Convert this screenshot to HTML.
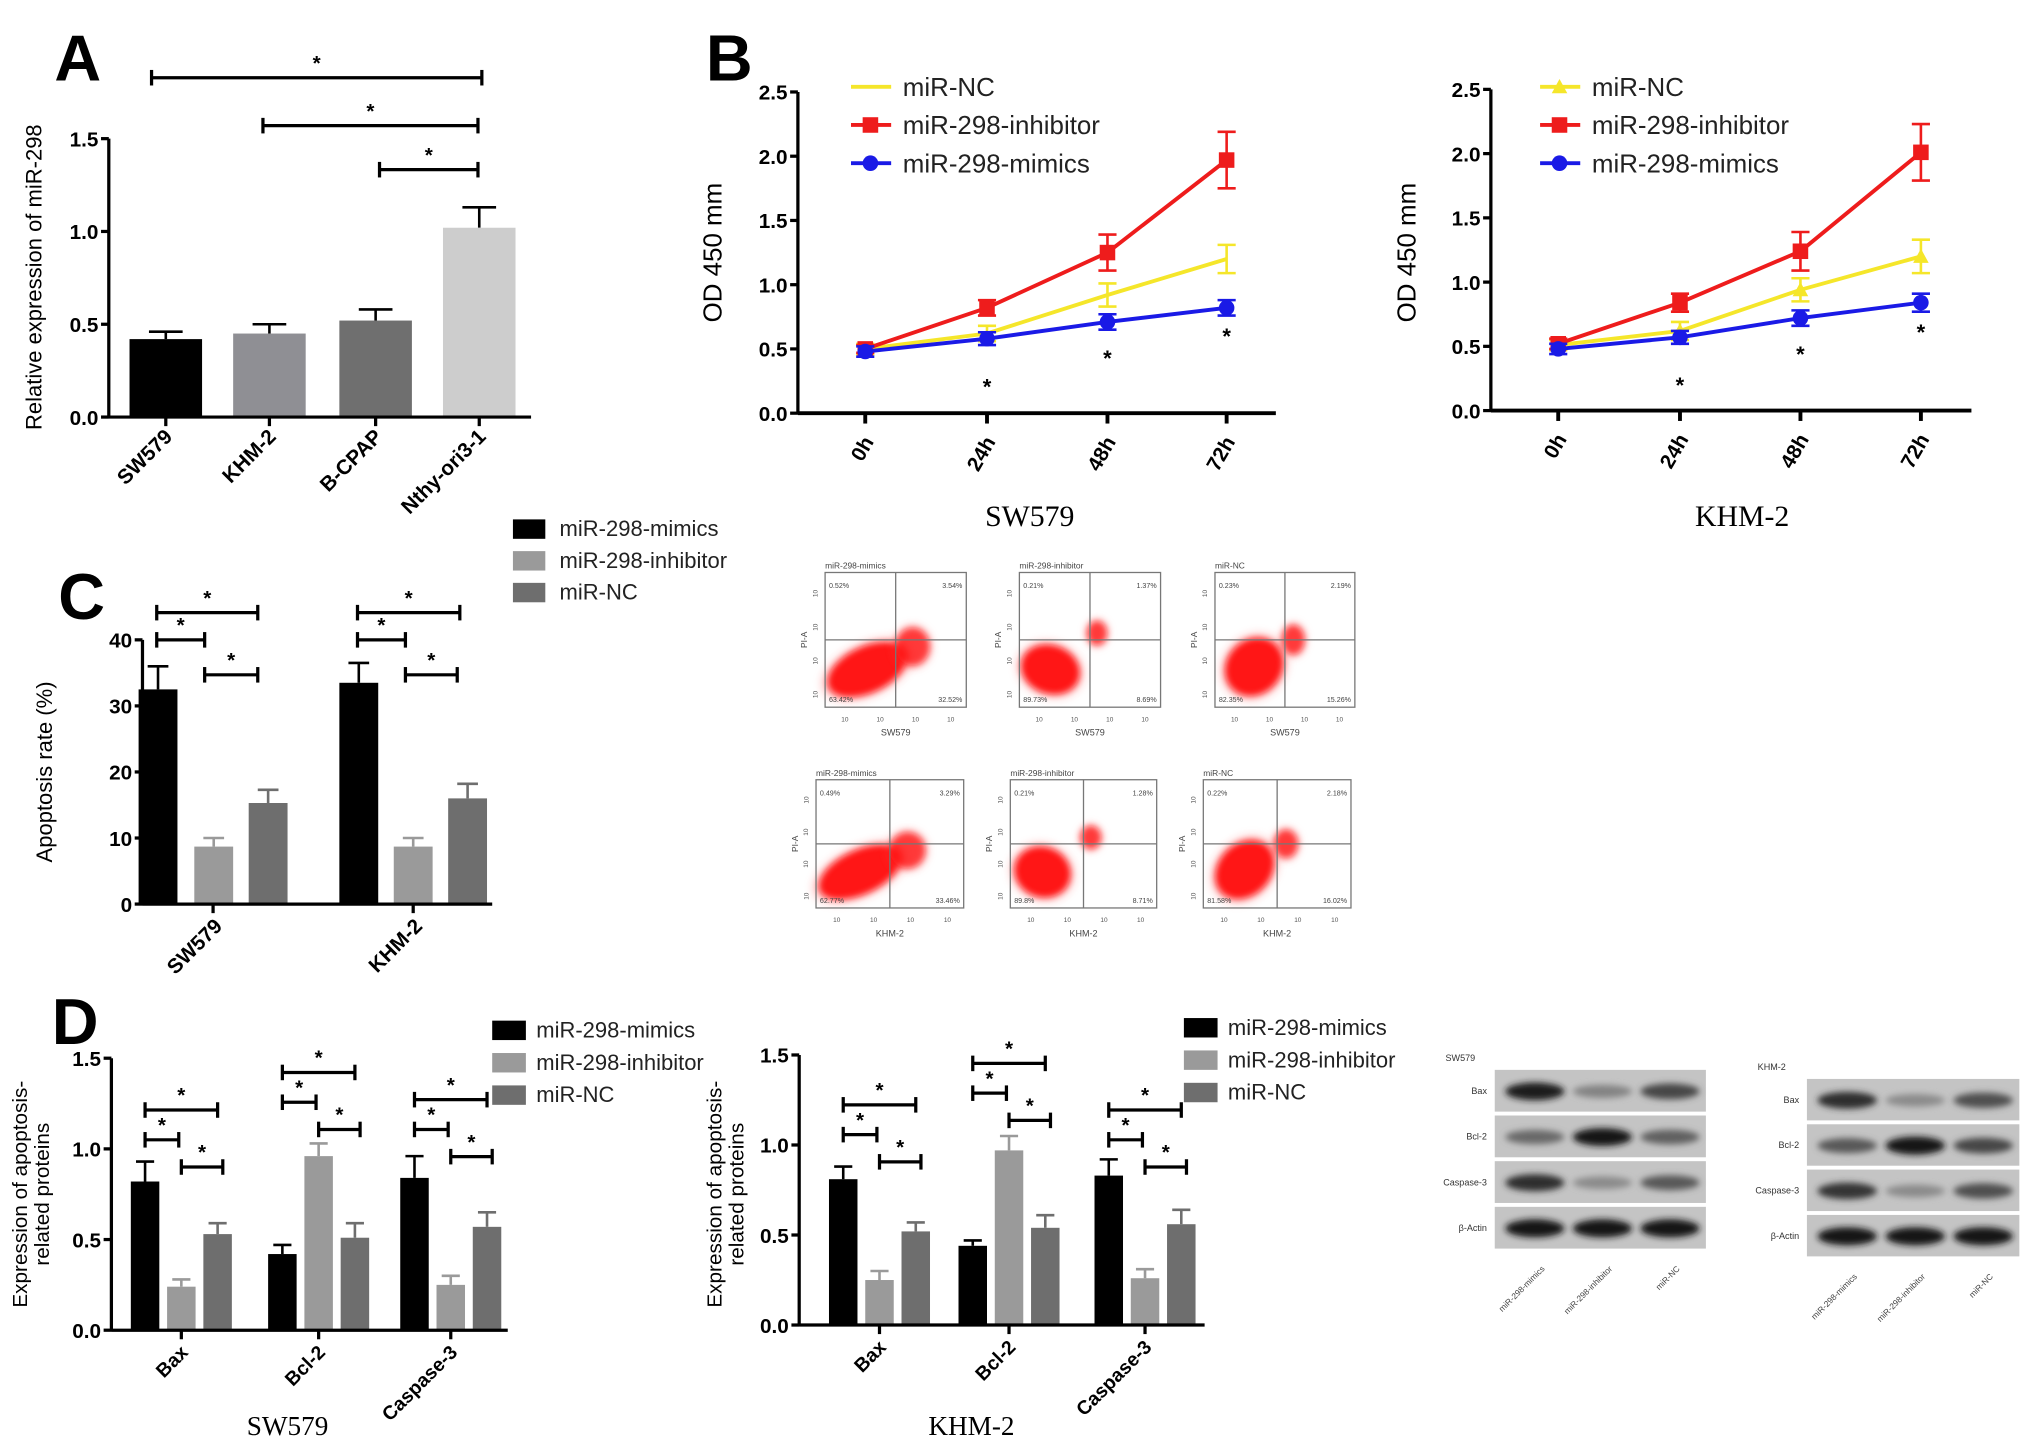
<!DOCTYPE html>
<html><head><meta charset="utf-8">
<style>
html,body{margin:0;padding:0;background:#fff;}
svg{display:block;font-family:"Liberation Sans",sans-serif;}
</style></head>
<body>
<svg id="fig" width="2031" height="1446" viewBox="0 0 1568 1116.4" preserveAspectRatio="none" xmlns="http://www.w3.org/2000/svg">
<defs>
<filter id="blur2" x="-50%" y="-50%" width="200%" height="200%"><feGaussianBlur stdDeviation="2.5"/></filter>
<filter id="blur3" x="-50%" y="-50%" width="200%" height="200%"><feGaussianBlur stdDeviation="3.5"/></filter>
</defs>
</svg>
<script>
// ---------- DATA ----------
const aCategories = ["SW579","KHM-2","B-CPAP","Nthy-ori3-1"];
const aValues = [0.42,0.45,0.52,1.02];
const aErrors = [0.04,0.05,0.06,0.11];
const aTicks = [0,0.5,1.0,1.5];

const bTimes = ["0h","24h","48h","72h"];
const bTicks = [0,0.5,1.0,1.5,2.0,2.5];
const bSW_NC = [0.50,0.62,0.92,1.20];
const bSW_NC_err = [0.04,0.06,0.09,0.11];
const bSW_Inh = [0.50,0.82,1.25,1.97];
const bSW_Inh_err = [0.03,0.06,0.14,0.22];
const bSW_Mim = [0.48,0.58,0.71,0.82];
const bSW_Mim_err = [0.04,0.05,0.06,0.06];
const bKH_NC = [0.51,0.62,0.94,1.20];
const bKH_NC_err = [0.04,0.07,0.09,0.13];
const bKH_Inh = [0.52,0.84,1.24,2.01];
const bKH_Inh_err = [0.04,0.07,0.15,0.22];
const bKH_Mim = [0.48,0.57,0.72,0.84];
const bKH_Mim_err = [0.04,0.05,0.06,0.07];

const cGroups = ["SW579","KHM-2"];
const cTicks = [0,10,20,30,40];
const cMimics = [32.5,33.5];
const cMimics_err = [3.5,3.0];
const cInhib = [8.7,8.7];
const cInhib_err = [1.3,1.3];
const cNC = [15.3,16.0];
const cNC_err = [2.0,2.2];

const dProteins = ["Bax","Bcl-2","Caspase-3"];
const dTicks = [0,0.5,1.0,1.5];
const dSW_Mim = [0.82,0.42,0.84];
const dSW_Mim_err = [0.11,0.05,0.12];
const dSW_Inh = [0.24,0.96,0.25];
const dSW_Inh_err = [0.04,0.07,0.05];
const dSW_NC = [0.53,0.51,0.57];
const dSW_NC_err = [0.06,0.08,0.08];
const dKH_Mim = [0.81,0.44,0.83];
const dKH_Mim_err = [0.07,0.03,0.09];
const dKH_Inh = [0.25,0.97,0.26];
const dKH_Inh_err = [0.05,0.08,0.05];
const dKH_NC = [0.52,0.54,0.56];
const dKH_NC_err = [0.05,0.07,0.08];

const groupNames = ["miR-298-mimics","miR-298-inhibitor","miR-NC"];
const flowQ = [
 ["0.52%","3.54%","63.42%","32.52%"],["0.21%","1.37%","89.73%","8.69%"],["0.23%","2.19%","82.35%","15.26%"],
 ["0.49%","3.29%","62.77%","33.46%"],["0.21%","1.28%","89.8%","8.71%"],["0.22%","2.18%","81.58%","16.02%"]];

// ---------- HELPERS ----------
const svg = document.getElementById('fig');
const NS = "http://www.w3.org/2000/svg";
function el(tag, attrs, name, parent){
  const e = document.createElementNS(NS, tag);
  for (const k in attrs) e.setAttribute(k, attrs[k]);
  
  
  (parent||svg).appendChild(e);
  return e;
}
function txt(x,y,s,size,name,opts){
  opts=opts||{};
  const a={x:x,y:y,'font-size':size,fill:opts.fill||'#000','text-anchor':opts.anchor||'start'};
  if(opts.weight) a['font-weight']=opts.weight;
  if(opts.family) a['font-family']=opts.family;
  if(opts.rot!==undefined) a.transform='rotate('+opts.rot+' '+x+' '+y+')';
  const t=el('text',a,name,opts.parent);
  t.textContent=s;
  return t;
}
function line(x1,y1,x2,y2,w,name,color){
  return el('line',{x1:x1,y1:y1,x2:x2,y2:y2,stroke:color||'#000','stroke-width':w},name);
}
function yAxis(x,y0,yTop,ticks,scale,name,fmt){
  line(x,y0+1,x,yTop,2.5,name+'-line');
  ticks.forEach(t=>{
    const y=scale(t);
    line(x-6,y,x,y,2.5,name+'-tick');
    txt(x-8,y+6,fmt(t),16,name+'-tick-label',{anchor:'end',weight:'bold'});
  });
}
function errBar(x,ytop,ybot,w,color,name,bottomCap){
  line(x,ytop,x,ybot,2,name,color);
  line(x-w,ytop,x+w,ytop,2,name+'-cap',color);
  if(bottomCap) line(x-w,ybot,x+w,ybot,2,name+'-cap',color);
}
function bracket(x1,x2,y,name){
  line(x1,y,x2,y,2.5,name);
  line(x1,y-6,x1,y+6,2.5,name+'-end');
  line(x2,y-6,x2,y+6,2.5,name+'-end');
  txt((x1+x2)/2,y-6,'*',16,name+'-star',{anchor:'middle',weight:'bold'});
}

// Panel letters
txt(42,62,'A',50,'panel-label-a',{weight:'bold'});
txt(545,62,'B',50,'panel-label-b',{weight:'bold'});
txt(45,478,'C',50,'panel-label-c',{weight:'bold'});
txt(40,806,'D',50,'panel-label-d',{weight:'bold'});

// ---------- PANEL A ----------
(function(){
  const x0=84,y0=322,k=143.3;
  const Y=v=>y0-v*k;
  const xs=[128,208,290,370];
  const cols=['#000','#8f8f94','#6f6f6f','#cdcdcd'];
  aValues.forEach((v,i)=>{
    errBar(xs[i],Y(v+aErrors[i]),Y(v),13,'#000','error-bar-a',false);
    el('rect',{x:xs[i]-28,y:Y(v),width:56,height:y0-Y(v),fill:cols[i]},'bar-a-'+aCategories[i].toLowerCase());
  });
  yAxis(x0,y0,Y(1.5),aTicks,Y,'a-y-axis',t=>t.toFixed(1));
  line(x0,y0,410,y0,2.5,'a-x-axis');
  aCategories.forEach((c,i)=>{
    line(xs[i],y0,xs[i],y0+7,2.5,'a-x-tick');
    txt(xs[i]+6,y0+16,c,16,'a-x-tick-label',{anchor:'end',weight:'bold',rot:-45});
  });
  txt(32,214,'Relative expression of miR-298',17,'a-y-axis-title',{anchor:'middle',rot:-90});
  bracket(117,372,60,'sig-a-1');
  bracket(203,369,97,'sig-a-2');
  bracket(293,369,131,'sig-a-3');
})();

// ---------- PANEL B ----------
function lineChart(cfg){
  const Y=v=>cfg.y0-v*cfg.k;
  const series=[
    {v:cfg.nc,e:cfg.ncE,c:'#f5e62a',m:cfg.ncMarker,n:'mir-nc'},
    {v:cfg.inh,e:cfg.inhE,c:'#ee1c1c',m:'square',n:'mir-298-inhibitor'},
    {v:cfg.mim,e:cfg.mimE,c:'#1a1ae6',m:'circle',n:'mir-298-mimics'}];
  function marker(x,y,m,c,name){
    if(m==='square') el('rect',{x:x-6,y:y-6,width:12,height:12,fill:c},name);
    else if(m==='circle') el('circle',{cx:x,cy:y,r:6,fill:c},name);
    else if(m==='triangle') el('polygon',{points:(x-6)+','+(y+5)+' '+(x+6)+','+(y+5)+' '+x+','+(y-6),fill:c},name);
  }
  series.forEach(s=>{
    const pts=s.v.map((v,i)=>cfg.xs[i]+','+Y(v)).join(' ');
    el('polyline',{points:pts,fill:'none',stroke:s.c,'stroke-width':3},'line-'+s.n+'-'+cfg.id);
    s.v.forEach((v,i)=>{
      errBar(cfg.xs[i],Y(v+s.e[i]),Y(v-s.e[i]),7,s.c,'error-bar-'+s.n,true);
      marker(cfg.xs[i],Y(v),s.m,s.c,'point-'+s.n+'-'+bTimes[i]);
    });
  });
  yAxis(cfg.x0,cfg.y0,Y(2.5),bTicks,Y,'b-y-axis-'+cfg.id,t=>t.toFixed(1));
  line(cfg.x0,cfg.y0,cfg.xEnd,cfg.y0,3,'b-x-axis-'+cfg.id);
  bTimes.forEach((t,i)=>{
    line(cfg.xs[i],cfg.y0,cfg.xs[i],cfg.y0+8,3,'b-x-tick');
    txt(cfg.xs[i]+7,cfg.y0+22,t,16,'b-x-tick-label',{anchor:'end',weight:'bold',rot:-60});
  });
  [1,2,3].forEach(i=>{
    const y=Y(cfg.mim[i]-cfg.mimE[i])+ (i===1?38:i===2?28:22);
    txt(cfg.xs[i],y,'*',17,'b-sig-star',{anchor:'middle',weight:'bold'});
  });
  txt(cfg.ylx,195,'OD 450 mm',20,'b-y-axis-title-'+cfg.id,{anchor:'middle',rot:-90});
  txt(cfg.titleX,406,cfg.title,23,'b-chart-title-'+cfg.id,{anchor:'middle',family:'"Liberation Serif",serif'});
  const labs=['miR-NC','miR-298-inhibitor','miR-298-mimics'];
  series.forEach((s,i)=>{
    const y=67+i*29.5;
    line(cfg.lx,y,cfg.lx+31,y,3,'legend-line-'+s.n,s.c);
    marker(cfg.lx+15,y,s.m,s.c,'legend-marker-'+s.n);
    txt(cfg.lx+40,y+7,labs[i],20,'legend-label-'+s.n,{fill:'#222'});
  });
}
lineChart({id:'sw579',x0:616,y0:319,k:99.2,xs:[668,762,855,947],xEnd:985,nc:bSW_NC,ncE:bSW_NC_err,ncMarker:'none',inh:bSW_Inh,inhE:bSW_Inh_err,mim:bSW_Mim,mimE:bSW_Mim_err,ylx:557,title:'SW579',titleX:795,lx:657});
lineChart({id:'khm2',x0:1151,y0:317,k:99.2,xs:[1203,1297,1390,1483],xEnd:1522,nc:bKH_NC,ncE:bKH_NC_err,ncMarker:'triangle',inh:bKH_Inh,inhE:bKH_Inh_err,mim:bKH_Mim,mimE:bKH_Mim_err,ylx:1093,title:'KHM-2',titleX:1345,lx:1189});

// ---------- PANEL C ----------
(function(){
  const x0=110,y0=698,k=5.1;
  const Y=v=>y0-v*k;
  const gx=[[122,165,207],[277,319,361]];
  const sets=[[cMimics,cMimics_err,'#000'],[cInhib,cInhib_err,'#9a9a9a'],[cNC,cNC_err,'#6e6e6e']];
  cGroups.forEach((g,gi)=>{
    sets.forEach((s,si)=>{
      const v=s[0][gi],x=gx[gi][si];
      errBar(x,Y(v+s[1][gi]),Y(v),8,s[2],'error-bar-c',false);
      el('rect',{x:x-15,y:Y(v),width:30,height:y0-Y(v),fill:s[2]},'bar-c-'+g.toLowerCase()+'-'+groupNames[si].toLowerCase());
    });
    line((gx[gi][0]+gx[gi][2])/2,y0,(gx[gi][0]+gx[gi][2])/2,y0+7,2.5,'c-x-tick');
    txt((gx[gi][0]+gx[gi][2])/2+8,y0+18,g,16,'c-x-tick-label',{anchor:'end',weight:'bold',rot:-45});
  });
  yAxis(x0,y0,Y(40),cTicks,Y,'c-y-axis',t=>String(t));
  line(x0,y0,380,y0,2.5,'c-x-axis');
  txt(40,596,'Apoptosis rate  (%)',17,'c-y-axis-title',{anchor:'middle',rot:-90});
  bracket(121,199,473,'sig-c-sw-1');bracket(121,158,494,'sig-c-sw-2');bracket(158,199,521,'sig-c-sw-3');
  bracket(276,355,473,'sig-c-kh-1');bracket(276,313,494,'sig-c-kh-2');bracket(313,353,521,'sig-c-kh-3');
  const cols=['#000','#9a9a9a','#6e6e6e'];
  groupNames.forEach((n,i)=>{
    el('rect',{x:396,y:408+i*24.5-7,width:25,height:15,fill:cols[i]},'legend-swatch-c-'+n.toLowerCase());
    txt(432,408+i*24.5+6,n,17,'legend-label-c-'+n.toLowerCase(),{fill:'#222'});
  });
})();

// ---------- FLOW CYTOMETRY ----------
(function(){
  const boxes=[[637,442,746,546],[787,442,896,546],[938,442,1046,546],[630,602,744,701],[780,602,893,701],[929,602,1043,701]];
  const blobs=[[[-0.2,0.22,0.3,0.17,-25],[0.12,0.05,0.12,0.14,0]],[[-0.28,0.22,0.17,0.22,-70],[0.05,-0.05,0.07,0.09,0]],[[-0.22,0.2,0.22,0.2,-45],[0.06,0.0,0.08,0.11,0]]];
  boxes.forEach((b,i)=>{
    const g=el('g',{},'flow-plot-'+(i+1));
    const [x1,y1,x2,y2]=b,w=x2-x1,h=y2-y1,cx=(x1+x2)/2,cy=(y1+y2)/2;
    const bl=blobs[i%3];
    bl.forEach((e,j)=>{
      const ex=cx+e[0]*w,ey=cy+e[1]*h;
      el('ellipse',{cx:ex,cy:ey,rx:e[2]*w*1.15,ry:e[3]*h*1.15,fill:'#ff5050',opacity:0.35,filter:'url(#blur3)',transform:'rotate('+e[4]+' '+ex+' '+ey+')'},'flow-cell-halo',g);
      el('ellipse',{cx:ex,cy:ey,rx:e[2]*w,ry:e[3]*h,fill:'#ff1010',opacity:j?0.75:0.95,filter:'url(#blur2)',transform:'rotate('+e[4]+' '+ex+' '+ey+')'},'flow-cell-population',g);
    });
    el('rect',{x:x1,y:y1,width:w,height:h,fill:'none',stroke:'#777','stroke-width':1},'flow-plot-frame',g);
    el('line',{x1:cx,y1:y1,x2:cx,y2:y2,stroke:'#777','stroke-width':1},'flow-gate-vertical',g);
    el('line',{x1:x1,y1:cy,x2:x2,y2:cy,stroke:'#777','stroke-width':1},'flow-gate-horizontal',g);
    txt(x1,y1-3,groupNames[i%3],6.5,'flow-plot-title',{fill:'#444',parent:g});
    const q=flowQ[i];
    txt(x1+3,y1+12,q[0],5.5,'flow-q1-value',{fill:'#444',parent:g});
    txt(x2-3,y1+12,q[1],5.5,'flow-q2-value',{fill:'#444',anchor:'end',parent:g});
    txt(x1+3,y2-4,q[2],5.5,'flow-q4-value',{fill:'#444',parent:g});
    txt(x2-3,y2-4,q[3],5.5,'flow-q3-value',{fill:'#444',anchor:'end',parent:g});
    txt(x1-14,cy,'PI-A',6.5,'flow-y-label',{fill:'#444',anchor:'middle',rot:-90,parent:g});
    txt(cx,y2+22,i<3?'SW579':'KHM-2',7,'flow-x-label',{fill:'#444',anchor:'middle',parent:g});
    [0.14,0.39,0.64,0.89].forEach(f=>{
      txt(x1+f*w,y2+11,'10',5,'flow-x-tick-label',{fill:'#555',anchor:'middle',parent:g});
      txt(x1-6,y1+h*(1-f)+2,'10',5,'flow-y-tick-label',{fill:'#555',anchor:'end',rot:-90,parent:g});
    });
  });
})();

// ---------- PANEL D ----------
function groupedBar(cfg){
  const Y=v=>cfg.y0-v*cfg.k;
  const sets=[[cfg.mim,cfg.mimE,'#000'],[cfg.inh,cfg.inhE,'#9a9a9a'],[cfg.nc,cfg.ncE,'#6e6e6e']];
  dProteins.forEach((p,pi)=>{
    sets.forEach((s,si)=>{
      const v=s[0][pi],x=cfg.gx[pi]+si*28;
      errBar(x,Y(v+s[1][pi]),Y(v),7,s[2],'error-bar-d',false);
      el('rect',{x:x-11,y:Y(v),width:22,height:cfg.y0-Y(v),fill:s[2]},'bar-d-'+cfg.id+'-'+p.toLowerCase()+'-'+si);
    });
    const cx=cfg.gx[pi]+28;
    line(cx,cfg.y0,cx,cfg.y0+7,2.5,'d-x-tick');
    txt(cx+6,cfg.y0+18,p,15,'d-x-tick-label',{anchor:'end',weight:'bold',rot:-45});
    const a=cfg.gx[pi],b=cfg.gx[pi]+28,c=cfg.gx[pi]+56;
    const t=cfg.bry[pi];
    bracket(a,c,t,'sig-d-'+cfg.id+'-1');
    bracket(a,b-2,t+23,'sig-d-'+cfg.id+'-2');
    bracket(b,c+4,t+44,'sig-d-'+cfg.id+'-3');
  });
  yAxis(cfg.x0,cfg.y0,Y(1.5),dTicks,Y,'d-y-axis-'+cfg.id,t=>t.toFixed(1));
  line(cfg.x0,cfg.y0,cfg.xEnd,cfg.y0,2.5,'d-x-axis-'+cfg.id);
  txt(cfg.ylx,922,'Expression of apoptosis-',16,'d-y-axis-title-'+cfg.id,{anchor:'middle',rot:-90});
  txt(cfg.ylx+17,922,'related proteins',16,'d-y-axis-title-2-'+cfg.id,{anchor:'middle',rot:-90});
  txt(cfg.tx,1108,cfg.title,21,'d-chart-title-'+cfg.id,{anchor:'middle',family:'"Liberation Serif",serif'});
  const cols=['#000','#9a9a9a','#6e6e6e'];
  groupNames.forEach((n,i)=>{
    el('rect',{x:cfg.lx,y:cfg.ly+i*25-7,width:26,height:15,fill:cols[i]},'legend-swatch-d-'+cfg.id);
    txt(cfg.lx+34,cfg.ly+i*25+6,n,17,'legend-label-d-'+cfg.id,{fill:'#222'});
  });
}
groupedBar({id:'sw579',x0:86,y0:1027,k:140,gx:[112,218,320],xEnd:392,mim:dSW_Mim,mimE:dSW_Mim_err,inh:dSW_Inh,inhE:dSW_Inh_err,nc:dSW_NC,ncE:dSW_NC_err,bry:[857,828,849],ylx:21,tx:222,title:'SW579',lx:380,ly:795});
groupedBar({id:'khm2',x0:617,y0:1023,k:139,gx:[651,751,856],xEnd:930,mim:dKH_Mim,mimE:dKH_Mim_err,inh:dKH_Inh,inhE:dKH_Inh_err,nc:dKH_NC,ncE:dKH_NC_err,bry:[853,821,857],ylx:557,tx:750,title:'KHM-2',lx:914,ly:793});

// ---------- WESTERN BLOTS ----------
(function(){
  const blots=[{x:1154,y:825,w:163,h:141,title:'SW579',inten:[[0.95,0.35,0.7],[0.5,0.98,0.55],[0.85,0.3,0.6],[1,1,1]]},
               {x:1395,y:832,w:164,h:140,title:'KHM-2',inten:[[0.85,0.3,0.65],[0.6,1,0.7],[0.8,0.3,0.65],[1,1,1]]}];
  const rows=['Bax','Bcl-2','Caspase-3','β-Actin'];
  blots.forEach((b,bi)=>{
    const g=el('g',{},'western-blot-'+b.title.toLowerCase());
    txt(b.x-38,b.y-6,b.title,7,'blot-title',{fill:'#333',parent:g});
    const rh=b.h/4;
    rows.forEach((r,ri)=>{
      const y=b.y+ri*rh;
      el('rect',{x:b.x,y:y+1,width:b.w,height:rh-3,fill:'#c4c4c4'},'blot-row-bg',g);
      txt(b.x-6,y+rh/2+2,r,7,'blot-row-label',{fill:'#333',anchor:'end',parent:g});
      for(let l=0;l<3;l++){
        const v=b.inten[ri][l];
        const cx=b.x+b.w*(0.19+l*0.32);
        const c=Math.round(190-170*v);
        el('ellipse',{cx:cx,cy:y+rh/2,rx:b.w*0.14,ry:4+3*v,fill:'rgb('+c+','+c+','+c+')',filter:'url(#blur2)'},'blot-band',g);
      }
    });
    groupNames.forEach((n,l)=>{
      const cx=b.x+b.w*(0.19+l*0.32)+8;
      txt(cx,b.y+b.h+14,n,6.5,'blot-lane-label',{fill:'#444',anchor:'end',rot:-45,parent:g});
    });
  });
})();
</script>
</body></html>
